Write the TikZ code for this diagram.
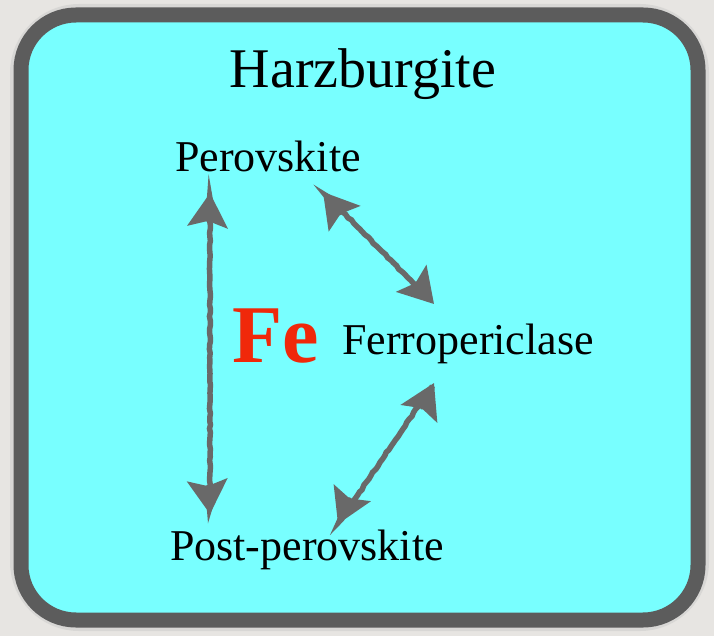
\documentclass[tikz,border=0pt]{standalone}
\usepackage{fontspec}
\setmainfont{Liberation Serif}
\usetikzlibrary{arrows.meta,decorations.pathmorphing}

\definecolor{paper}{RGB}{231,229,226}
\definecolor{aqua}{RGB}{120,255,255}
\definecolor{rim}{RGB}{92,92,92}
\definecolor{arrowgray}{RGB}{105,105,105}
\definecolor{ferrum}{RGB}{240,40,10}

\tikzset{
  phase/.style={inner sep=0pt, anchor=base, font=\fontsize{44}{48}\selectfont},
  swap/.style={arrowgray, line width=5.5pt, line cap=round,
    {Stealth[length=34pt,width=40pt,inset=6pt]}-{Stealth[length=34pt,width=40pt,inset=6pt]},
    decorate, decoration={random steps, segment length=4pt, amplitude=0.6pt}},
}

\begin{document}
\begin{tikzpicture}[x=1pt,y=-1pt]
  % Hintergrund
  \fill[paper] (0,0) rectangle (714,636);
  \useasboundingbox (0,0) rectangle (714,636);

  % Kasten
  \draw[rim!40, line width=22pt, rounded corners=58pt, opacity=0.35] (21,15) rectangle (698,620);
  \draw[rim, fill=aqua, line width=15pt, rounded corners=55pt] (21,15) rectangle (698,620);

  % Texte
  \node[phase, font=\fontsize{56}{60}\selectfont] (title) at (363,88) {Harzburgite};
  \node[phase] (pv) at (268,172) {Perovskite};
  \node[phase] (fp) at (468,354) {Ferropericlase};
  \node[phase] (ppv) at (307,560) {Post-perovskite};
  \node[phase, text=ferrum, font=\fontsize{82}{86}\selectfont\bfseries] (fe) at (276,362) {Fe};

  % Enden
  \coordinate (pv-s) at (210,193);
  \coordinate (ppv-n) at (210,514);
  \coordinate (pv-se) at (323,192);
  \coordinate (fp-nw) at (434,304);
  \coordinate (fp-sw) at (434,383);
  \coordinate (ppv-ne) at (338,524);

  % Pfeile
  \draw[swap] (pv-s) -- (ppv-n);
  \draw[swap] (pv-se) -- (fp-nw);
  \draw[swap] (fp-sw) -- (ppv-ne);
\end{tikzpicture}
\end{document}
